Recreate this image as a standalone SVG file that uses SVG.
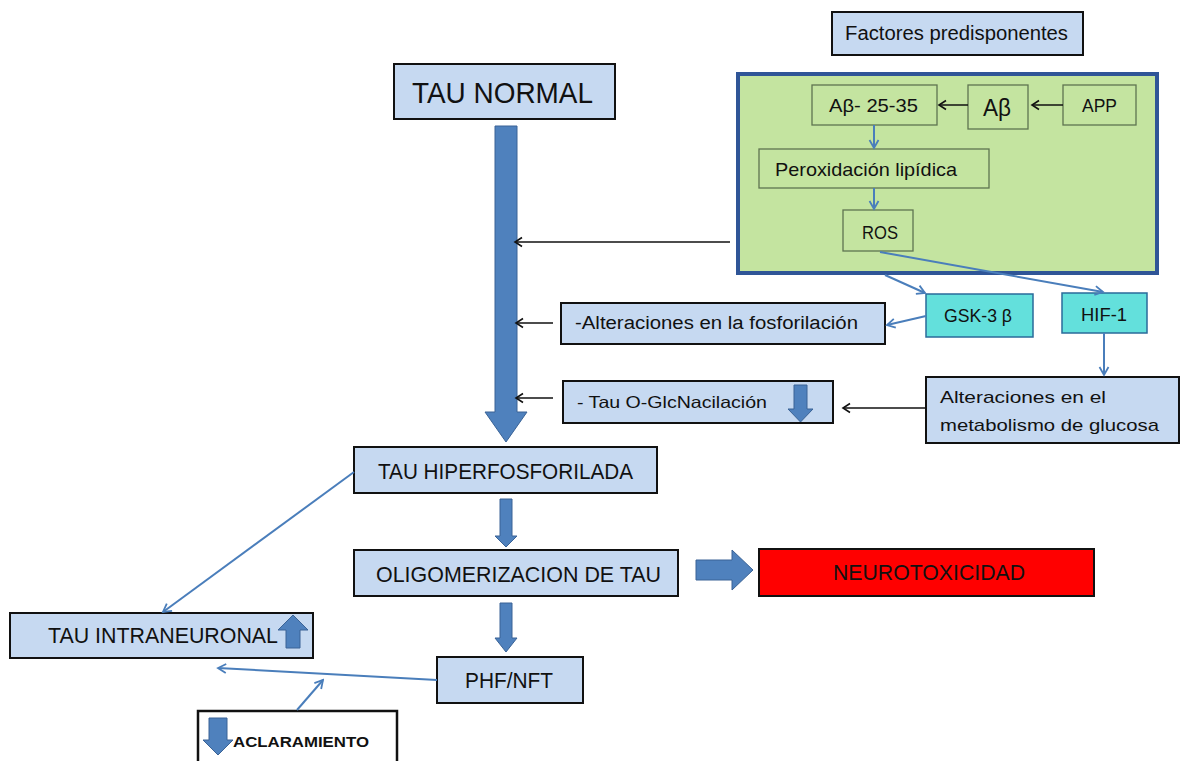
<svg xmlns="http://www.w3.org/2000/svg" width="1182" height="761" viewBox="0 0 1182 761">
<style>
text{font-family:"Liberation Sans",Arial,sans-serif;fill:#111;}
.lb{fill:#c6d9f1;stroke:#111;stroke-width:2;}
.gi{fill:none;stroke:#5f7350;stroke-width:1.3;}
.cy{fill:#63e0dc;stroke:#2a6b9a;stroke-width:1.5;}
.blk{fill:#4f81bd;stroke:#3a6396;stroke-width:1;}
.bl{fill:none;stroke:#4a7ebb;stroke-width:2;}
.k{fill:none;stroke:#111;stroke-width:1.5;}
</style>
<defs>
<marker id="ob" viewBox="0 0 12 12" refX="10" refY="6" markerWidth="12" markerHeight="12" orient="auto" markerUnits="userSpaceOnUse"><path d="M2,1.5 L10,6 L2,10.5" fill="none" stroke="#4a7ebb" stroke-width="1.8"/></marker>
<marker id="ok" viewBox="0 0 12 12" refX="10" refY="6" markerWidth="12" markerHeight="12" orient="auto" markerUnits="userSpaceOnUse"><path d="M3,1.5 L10,6 L3,10.5" fill="none" stroke="#111" stroke-width="1.6"/></marker>
</defs>

<g id="factores"><rect class="lb" x="832" y="12" width="251" height="43"/><text x="845" y="40" font-size="19.5" textLength="223" lengthAdjust="spacingAndGlyphs">Factores predisponentes</text></g>

<g id="green"><rect x="738" y="74" width="419" height="199" fill="#c4e4a0" stroke="#2f5597" stroke-width="4"/></g>
<g id="ab2535"><rect class="gi" x="812" y="85" width="125" height="40"/><text x="829" y="112" font-size="18" textLength="89" lengthAdjust="spacingAndGlyphs">Aβ- 25-35</text></g>
<g id="ab"><rect class="gi" x="968" y="85" width="60" height="44"/><text x="983" y="116" font-size="24" textLength="28" lengthAdjust="spacingAndGlyphs">Aβ</text></g>
<g id="app"><rect class="gi" x="1063" y="85" width="73" height="40"/><text x="1082" y="112" font-size="17.7" textLength="35" lengthAdjust="spacingAndGlyphs">APP</text></g>
<g id="perox"><rect class="gi" x="759" y="149" width="230" height="39"/><text x="775" y="176" font-size="18.6" textLength="182" lengthAdjust="spacingAndGlyphs">Peroxidación lipídica</text></g>
<g id="ros"><rect class="gi" x="843" y="210" width="70" height="41"/><text x="862" y="239" font-size="17.7" textLength="36" lengthAdjust="spacingAndGlyphs">ROS</text></g>

<g id="tau-normal"><rect class="lb" x="394" y="64" width="221" height="55"/><text x="412" y="103" font-size="29" textLength="181" lengthAdjust="spacingAndGlyphs">TAU NORMAL</text></g>

<g id="gsk"><rect class="cy" x="926" y="294" width="107" height="43"/><text x="944" y="322" font-size="18.5" textLength="68" lengthAdjust="spacingAndGlyphs">GSK-3 β</text></g>
<g id="hif"><rect class="cy" x="1062" y="293" width="85" height="40"/><text x="1081" y="321" font-size="18" textLength="46" lengthAdjust="spacingAndGlyphs">HIF-1</text></g>
<g id="glucosa"><rect class="lb" x="926" y="377" width="253" height="66"/><text x="940" y="403" font-size="17" textLength="166" lengthAdjust="spacingAndGlyphs">Alteraciones en el</text><text x="940" y="431" font-size="17" textLength="219" lengthAdjust="spacingAndGlyphs">metabolismo de glucosa</text></g>
<g id="fosforilacion"><rect class="lb" x="561" y="303" width="324" height="41"/><text x="575" y="329" font-size="18" textLength="283" lengthAdjust="spacingAndGlyphs">-Alteraciones en la fosforilación</text></g>
<g id="oglc"><rect class="lb" x="563" y="381" width="270" height="42"/><text x="577" y="408" font-size="16.5" textLength="190" lengthAdjust="spacingAndGlyphs">- Tau O-GlcNacilación</text><polygon class="blk" points="794,385 807,385 807,409 813,409 800.5,422 788,409 794,409"/></g>

<g id="tau-hiper"><rect class="lb" x="354" y="447" width="303" height="46"/><text x="378" y="479" font-size="22" textLength="255" lengthAdjust="spacingAndGlyphs">TAU HIPERFOSFORILADA</text></g>
<g id="oligo"><rect class="lb" x="354" y="550" width="324" height="46"/><text x="376" y="582" font-size="22.5" textLength="285" lengthAdjust="spacingAndGlyphs">OLIGOMERIZACION DE TAU</text></g>
<g id="neurotox"><rect x="759" y="549" width="335" height="47" fill="#ff0000" stroke="#111" stroke-width="2"/><text x="833" y="580" font-size="22" textLength="192" lengthAdjust="spacingAndGlyphs">NEUROTOXICIDAD</text></g>
<g id="phf"><rect class="lb" x="437" y="657" width="146" height="46"/><text x="465" y="688" font-size="22.5" textLength="88" lengthAdjust="spacingAndGlyphs">PHF/NFT</text></g>
<g id="tau-intra"><rect class="lb" x="10" y="613" width="303" height="45"/><text x="48" y="643" font-size="22" textLength="230" lengthAdjust="spacingAndGlyphs">TAU INTRANEURONAL</text><polygon class="blk" points="286,648 300,648 300,630 308,630 293,615 278,630 286,630"/></g>
<g id="aclaramiento"><rect x="198" y="711" width="199" height="60" fill="#fff" stroke="#111" stroke-width="2.5"/><polygon class="blk" points="209,718 227,718 227,740 233,740 218,755 203,740 209,740"/><text x="233" y="747" font-size="15" font-weight="bold" textLength="136" lengthAdjust="spacingAndGlyphs">ACLARAMIENTO</text></g>

<g id="connectors">
<polygon class="blk" points="495,126 517,126 517,412 527,412 506,442 485,412 495,412"/>
<polygon class="blk" points="500,499 512,499 512,536 517,536 506,547 495,536 500,536"/>
<polygon class="blk" points="500,603 512,603 512,638 517,638 506,652 495,638 500,638"/>
<polygon class="blk" points="696,560 732,560 732,550 753,570 732,590 732,580 696,580"/>
<line class="k" x1="1063" y1="105" x2="1032" y2="105" marker-end="url(#ok)"/>
<line class="k" x1="968" y1="105" x2="939" y2="105" marker-end="url(#ok)"/>
<line class="bl" x1="874" y1="125" x2="874" y2="148" stroke-width="1.3" marker-end="url(#ob)"/>
<line class="bl" x1="874" y1="188" x2="874" y2="209" stroke-width="1.3" marker-end="url(#ob)"/>
<line class="k" x1="730" y1="242" x2="515" y2="242" marker-end="url(#ok)"/>
<line class="k" x1="553" y1="323" x2="516" y2="323" marker-end="url(#ok)"/>
<line class="k" x1="553" y1="398" x2="516" y2="398" marker-end="url(#ok)"/>
<line class="k" x1="926" y1="408" x2="843" y2="408" marker-end="url(#ok)"/>
<line class="bl" x1="880" y1="252" x2="1103" y2="292" marker-end="url(#ob)"/>
<line class="bl" x1="885" y1="275" x2="925" y2="293" marker-end="url(#ob)"/>
<line class="bl" x1="926" y1="316" x2="887" y2="325" marker-end="url(#ob)"/>
<line class="bl" x1="1104" y1="333" x2="1104" y2="375" stroke-width="2.5" marker-end="url(#ob)"/>
<line class="bl" x1="354" y1="472" x2="163" y2="612" marker-end="url(#ob)"/>
<line class="bl" x1="437" y1="680" x2="218" y2="668" marker-end="url(#ob)"/>
<line class="bl" x1="297" y1="710" x2="323" y2="680" marker-end="url(#ob)"/>
</g>
</svg>
